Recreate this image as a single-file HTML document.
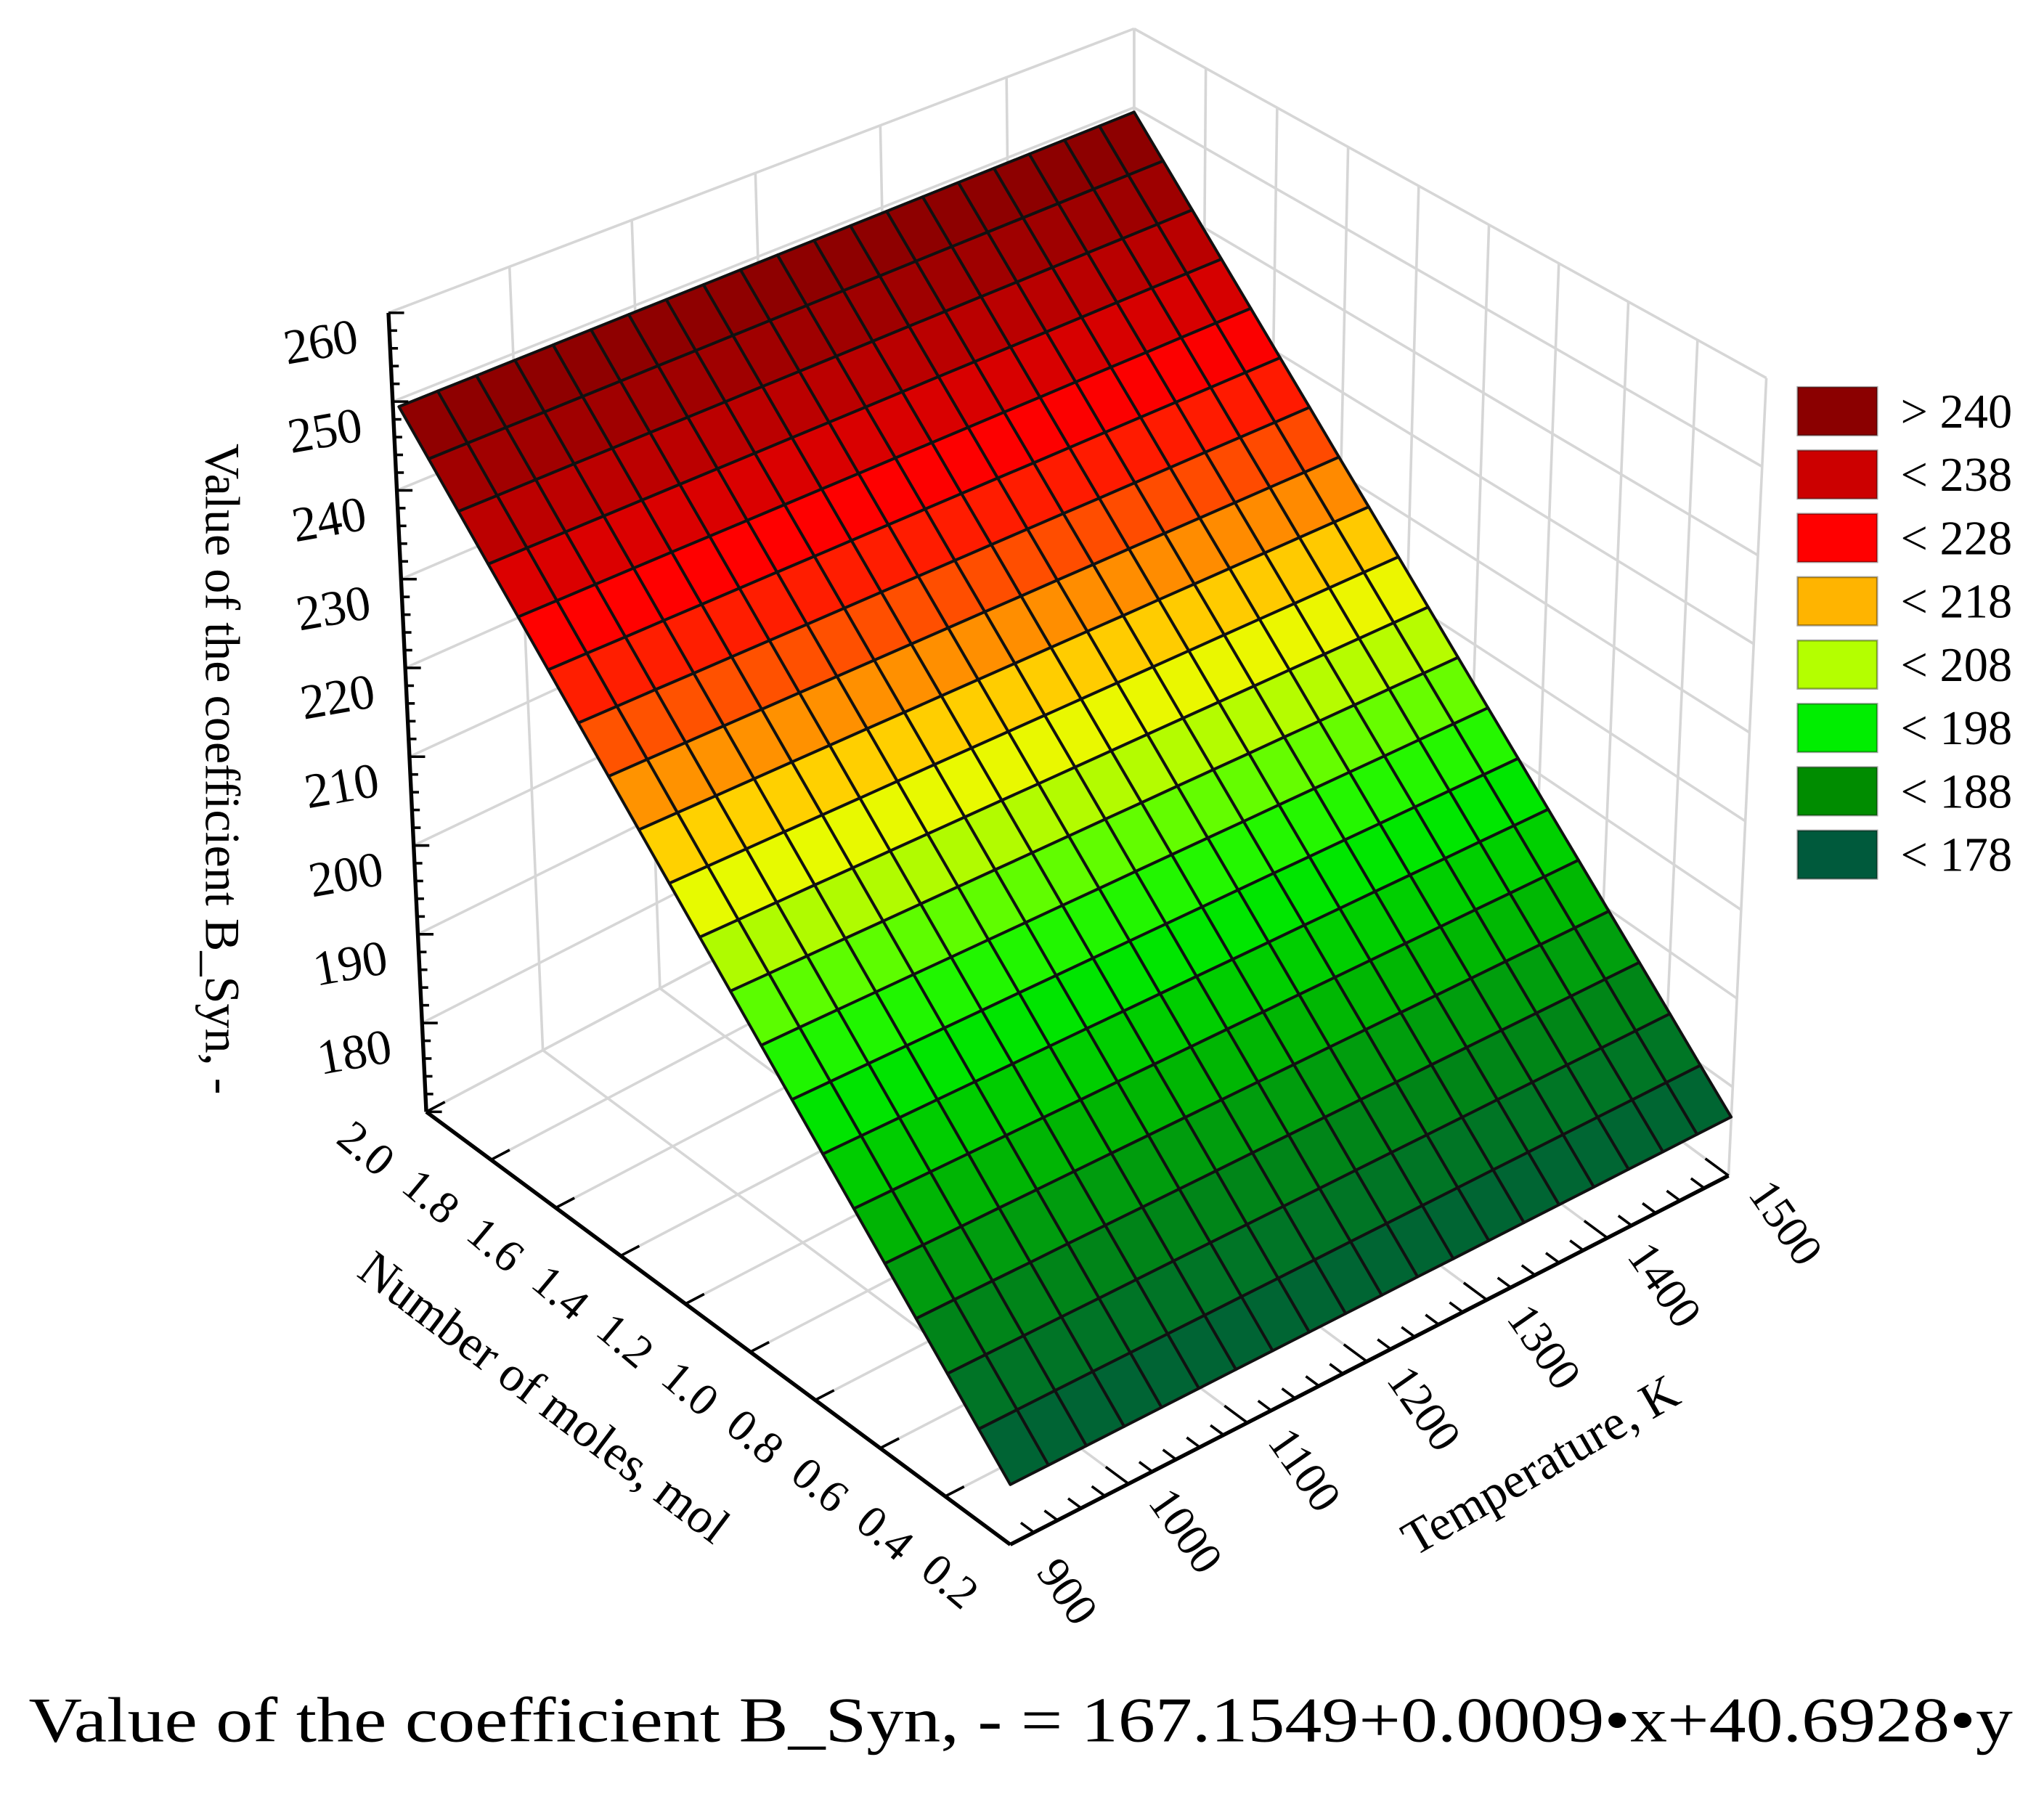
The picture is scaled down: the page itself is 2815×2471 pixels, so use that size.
<!DOCTYPE html>
<html><head><meta charset="utf-8">
<style>
html,body{margin:0;padding:0;background:#fff;}
svg{display:block;font-family:"Liberation Serif",serif;}
</style></head>
<body>
<svg id="chart" width="2815" height="2471" viewBox="0 0 1568 1376.4" xmlns="http://www.w3.org/2000/svg">
<g id="walls"></g>
<g id="surface"></g>
<g id="axes"></g>
<text x="0" y="0" font-size="38" text-anchor="middle" transform="translate(158,590) rotate(90)">Value of the coefficient B_Syn, -</text>
<text x="0" y="0" font-size="38" text-anchor="middle" transform="translate(410,1082) rotate(37)">Number of moles, mol</text>
<text x="0" y="0" font-size="38" text-anchor="middle" transform="translate(1188,1135) rotate(-30)">Temperature, K</text>
<g id="legend"></g>
<text x="22" y="1336" font-size="49" textLength="1522" lengthAdjust="spacingAndGlyphs">Value of the coefficient B_Syn, - = 167.1549+0.0009•x+40.6928•y</text>
</svg>
<script>
// ---- data ----
const tempGrid = [900,930,960,990,1020,1050,1080,1110,1140,1170,1200,1230,1260,1290,1320,1350,1380,1410,1440,1470,1500];
const molesGrid = [2.0,1.91,1.82,1.73,1.64,1.55,1.46,1.37,1.28,1.19,1.1,1.01,0.92,0.83,0.74,0.65,0.56,0.47,0.38,0.29,0.2];
const coefs = [167.1549, 0.0009, 40.6928];
const tempTicks = [900,1000,1100,1200,1300,1400,1500];
const molesTicks = [2.0,1.8,1.6,1.4,1.2,1.0,0.8,0.6,0.4,0.2];
const molesTickLabels = ["2.0","1.8","1.6","1.4","1.2","1.0","0.8","0.6","0.4","0.2"];
const zTicks = [180,190,200,210,220,230,240,250,260];
const legendLabels = ["> 240","< 238","< 228","< 218","< 208","< 198","< 188","< 178"];
const legendColors = ["#8b0000","#cc0000","#ff0000","#ffb400","#b4ff00","#00ee00","#008c00","#005a3c"];

const NS="http://www.w3.org/2000/svg";
function mk(tag,parent){const e=document.createElementNS(NS,tag);parent.appendChild(e);return e;}

// ---- projection ----
function homog(p0,p1,p2,p3){
  const [x0,y0]=p0,[x1,y1]=p1,[x2,y2]=p2,[x3,y3]=p3;
  const dx1=x1-x2,dx2=x3-x2,dx3=x0-x1+x2-x3,dy1=y1-y2,dy2=y3-y2,dy3=y0-y1+y2-y3;
  const den=dx1*dy2-dx2*dy1;
  const g=(dx3*dy2-dx2*dy3)/den,h=(dx1*dy3-dx3*dy1)/den;
  const a=x1-x0+g*x1,b=x3-x0+h*x3,c=x0,d=y1-y0+g*y1,e=y3-y0+h*y3,f=y0;
  return (u,v)=>{const w=g*u+h*v+1;return [(a*u+b*v+c)/w,(d*u+e*v+f)/w];};
}
const Hfloor=homog([327,853],[870,566],[1326,902],[775,1185]);
const Htop=homog([298,240],[870,22],[1355,290],[781,495]);
const Hsurf=homog([306,312],[870,86],[1328,857],[775,1139]);
const uT=T=>(T-900)/600, vM=m=>(2.0-m)/1.8, wZ=z=>(z-170)/90;
function P(T,m,z){const u=uT(T),v=vM(m),w=wZ(z);const f=Hfloor(u,v),t=Htop(u,v);return [f[0]+(t[0]-f[0])*w,f[1]+(t[1]-f[1])*w];}
function S(T,m){return Hsurf(uT(T),vM(m));}
const pts=a=>a.map(p=>p[0].toFixed(1)+","+p[1].toFixed(1)).join(" ");
function zval(T,m){return coefs[0]+coefs[1]*T+coefs[2]*m;}

// ---- colour ----
const cStops=[[170,[0,88,62]],[178,[0,100,52]],[186,[0,135,22]],[194,[0,190,0]],[201,[0,235,0]],[206,[60,255,0]],[210,[160,250,0]],[214,[225,255,0]],[217,[255,230,0]],[220,[255,180,0]],[224,[255,110,0]],[228,[255,40,0]],[233,[255,0,0]],[238,[205,0,0]],[244,[160,0,0]],[250,[132,0,0]],[260,[125,0,0]]];
function col(z){for(let i=0;i<cStops.length-1;i++){const[a,ca]=cStops[i],[b,cb]=cStops[i+1];if(z<=b){const t=Math.max(0,(z-a)/(b-a));return "rgb("+ca.map((c,k)=>Math.round(c+(cb[k]-c)*t)).join(",")+")";}}return "rgb(125,0,0)";}

// ---- walls ----
const walls=document.getElementById('walls');
function gl(a,b,name){const l=mk('line',walls);l.setAttribute('x1',a[0]);l.setAttribute('y1',a[1]);l.setAttribute('x2',b[0]);l.setAttribute('y2',b[1]);l.setAttribute('stroke','#d6d6d6');l.setAttribute('stroke-width','2');

}
zTicks.concat([170]).forEach(z=>{gl(P(900,2.0,z),P(1500,2.0,z),'left-wall-gridline');gl(P(1500,2.0,z),P(1500,0.2,z),'right-wall-gridline');});
tempTicks.forEach(T=>{gl(P(T,2.0,170),P(T,2.0,260),'left-wall-gridline');gl(P(T,2.0,170),P(T,0.2,170),'floor-gridline');});
molesTicks.forEach(m=>{gl(P(1500,m,170),P(1500,m,260),'right-wall-gridline');gl(P(900,m,170),P(1500,m,170),'floor-gridline');});

// ---- surface ----
const surf=document.getElementById('surface');
for(let i=0;i<molesGrid.length-1;i++){for(let j=0;j<tempGrid.length-1;j++){
  const T0=tempGrid[j],T1=tempGrid[j+1],m0=molesGrid[i],m1=molesGrid[i+1];
  const zc=zval((T0+T1)/2,(m0+m1)/2);
  const p=mk('polygon',surf);
  p.setAttribute('points',pts([S(T0,m0),S(T1,m0),S(T1,m1),S(T0,m1)]));
  p.setAttribute('fill',col(zc));p.setAttribute('stroke','#111');p.setAttribute('stroke-width','2.2');p.setAttribute('stroke-linejoin','round');
  
  
}}

// ---- axes ----
const ax=document.getElementById('axes');
function line(a,b,w,name){const l=mk('line',ax);l.setAttribute('x1',a[0]);l.setAttribute('y1',a[1]);l.setAttribute('x2',b[0]);l.setAttribute('y2',b[1]);l.setAttribute('stroke','#000');l.setAttribute('stroke-width',w);

}
function txt(s,x,y,rot,size,name,anchor){const t=mk('text',ax);t.textContent=s;t.setAttribute('font-size',size);t.setAttribute('text-anchor',anchor||'middle');t.setAttribute('dominant-baseline','central');t.setAttribute('transform','translate('+x.toFixed(1)+','+y.toFixed(1)+') rotate('+rot+')');

}
// z axis
line(P(900,2.0,170),P(900,2.0,260),3,'z-axis-line');
for(let z=170;z<=260;z+=2){const a=P(900,2.0,z);line(a,[a[0]+(z%10===0?12:6),a[1]],2,'z-tick');}
zTicks.forEach(z=>{const a=P(900,2.0,z);txt(String(z),a[0]-52,a[1]+22,-10,38,'z-tick-label');});
// moles axis
line(P(900,2.0,170),P(900,0.2,170),3,'y-axis-line');
molesTicks.forEach((m,i)=>{const a=P(900,m,170),b=P(916,m,170);line(a,b,2,'y-tick');txt(molesTickLabels[i],a[0]-46,a[1]+28,40,35,'y-tick-label');});
// temperature axis
line(P(900,0.2,170),P(1500,0.2,170),3,'x-axis-line');
for(let T=900;T<=1500;T+=20){const a=P(T,0.2,170),b=P(T,T%100===0?0.27:0.24,170);line(a,b,2,'x-tick');}
tempTicks.forEach(T=>{const a=P(T,0.2,170);txt(String(T),a[0]+44,a[1]+36,55,35,'x-tick-label');});

// ---- legend ----
const lg=document.getElementById('legend');
legendLabels.forEach((s,i)=>{
  const y=297+i*48.6;
  const r=mk('rect',lg);r.setAttribute('x',1379);r.setAttribute('y',y);r.setAttribute('width',61);r.setAttribute('height',37);r.setAttribute('fill',legendColors[i]);r.setAttribute('stroke','rgba(0,0,0,0.35)');r.setAttribute('stroke-width','1.5');
  
  
  const t=mk('text',lg);t.textContent=s;t.setAttribute('x',1458);t.setAttribute('y',y+31);t.setAttribute('font-size',37);
  
  
});
</script>
</body></html>
